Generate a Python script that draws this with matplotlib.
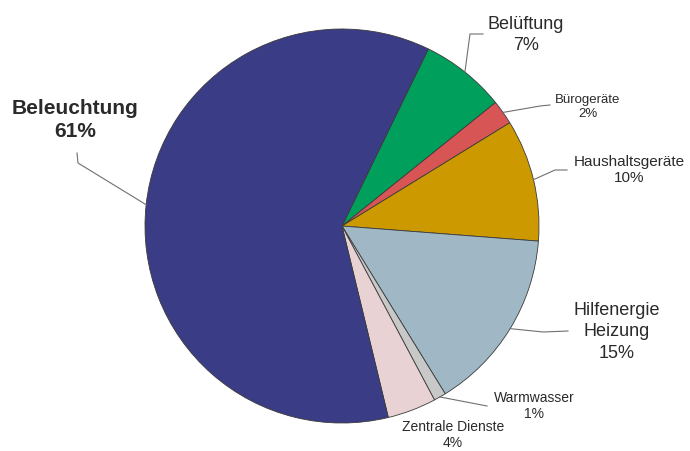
import matplotlib.pyplot as plt
import numpy as np

# data (percent)
labels = ['Belüftung', 'Bürogeräte', 'Haushaltsgeräte', 'Hilfenergie\nHeizung',
          'Warmwasser', 'Zentrale Dienste', 'Beleuchtung']
values = [7, 2, 10, 15, 1, 4, 61]
colors = ['#00a05c', '#d85556', '#cc9900', '#a0b8c6', '#c8c8c8', '#e9d2d3', '#3a3c86']

W, H = 690, 451
plt.rcParams['font.family'] = ['Liberation Sans', 'DejaVu Sans']

fig = plt.figure(figsize=(W / 100, H / 100), dpi=100)
ax = fig.add_axes([0, 0, 1, 1])

cx, cy, r = 342, H - 226, 197
wedges, _ = ax.pie(values, colors=colors, startangle=64, counterclock=False,
                   center=(cx, cy), radius=r, frame=True,
                   wedgeprops=dict(edgecolor='#3a3a3a', linewidth=0.6))
ax.set_xlim(0, W)
ax.set_ylim(0, H)
ax.axis('off')

# label layout (pixel coords, y measured from top): elbow points of leader + text
layout = {
    'Beleuchtung': dict(path=[(78, 163), (77, 153)], text=(75, 120), size=15, bold=True, ls=1.3),
    'Belüftung': dict(path=[(470, 34), (483, 34)], text=(526, 35), size=13, ls=1.3),
    'Bürogeräte': dict(path=[(540, 106), (550, 105)], text=(588, 107), size=9.5),
    'Haushaltsgeräte': dict(path=[(555, 170), (567, 170)], text=(629, 170), size=11),
    'Hilfenergie\nHeizung': dict(path=[(543, 332), (568, 331)], text=(617, 332), size=13, ls=1.35),
    'Warmwasser': dict(path=[(487, 406)], text=(534, 406), size=10),
    'Zentrale Dienste': dict(path=[], text=(453, 435), size=10),
}

for w, lab, v in zip(wedges, labels, values):
    cfg = layout[lab]
    mid = np.deg2rad((w.theta1 + w.theta2) / 2)
    x0, y0 = cx + r * np.cos(mid), cy + r * np.sin(mid)
    if cfg['path']:
        xs = [x0] + [p[0] for p in cfg['path']]
        ys = [y0] + [H - p[1] for p in cfg['path']]
        ax.plot(xs, ys, color='#707070', lw=0.8)
    tx, ty = cfg['text']
    ax.text(tx, H - ty, f'{lab}\n{v}%', ha='center', va='center',
            fontsize=cfg['size'], color='#2a2a2a',
            fontweight='bold' if cfg.get('bold') else 'normal',
            linespacing=cfg.get('ls', 1.25))

fig.savefig('out.png', dpi=100, facecolor='white')
